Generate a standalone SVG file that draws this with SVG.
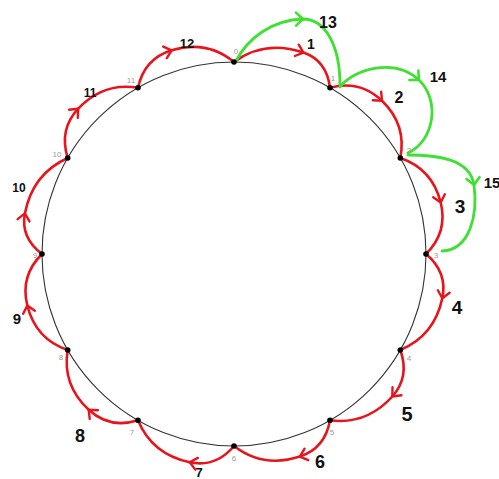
<svg xmlns="http://www.w3.org/2000/svg" width="499" height="479" viewBox="0 0 499 479">
<style>
.circ{fill:none;stroke:#333;stroke-width:1.1}
.dot{fill:#000}
.pl{font-family:"Liberation Sans",Arial,sans-serif;font-size:8px;fill:#999;text-anchor:middle;dominant-baseline:central}
.red{fill:none;stroke:#e8141c;stroke-width:2.6;stroke-linecap:round;stroke-linejoin:round;marker-mid:url(#ar)}
.grn{fill:none;stroke:#3fe032;stroke-width:2.8;stroke-linecap:round;stroke-linejoin:round;marker-mid:url(#ag)}
.lb{font-family:"Liberation Sans",Arial,sans-serif;font-size:16px;font-weight:bold;fill:#111;text-anchor:middle;dominant-baseline:central}
</style>
<defs>
<marker id="ar" markerUnits="userSpaceOnUse" orient="auto" markerWidth="20" markerHeight="20" refX="10" refY="10" viewBox="0 0 20 20" overflow="visible">
<path d="M3 4 L10 10 L3 16" fill="none" stroke="#e8141c" stroke-width="2.4" stroke-linecap="round" stroke-linejoin="round"/>
</marker>
<marker id="ag" markerUnits="userSpaceOnUse" orient="auto" markerWidth="20" markerHeight="20" refX="10" refY="10" viewBox="0 0 20 20" overflow="visible">
<path d="M3 3.5 L10 10 L3 16.5" fill="none" stroke="#3fe032" stroke-width="2.6" stroke-linecap="round" stroke-linejoin="round"/>
</marker>
</defs>
<g id="circle"><circle class="circ" cx="234" cy="254" r="192"/></g>
<g id="connectors">
<path id="e1" class="red" d="M234 62 C254.7 47 278.2 43.9 303.4 52.6 C318 57.6 327.5 68.2 330 87.7"/>
<path id="e2" class="red" d="M330 87.7 C350.9 82 367.9 87.2 382 100.8 C398.1 116.4 404.8 135.3 400.3 158"/>
<path id="e3" class="red" d="M400.3 158 C422.2 165.4 435.3 180.8 440.7 202.5 C445.4 221.5 441.4 238.8 426 254"/>
<path id="e4" class="red" d="M426 254 C441.6 267.1 445.8 281.9 442.3 298.3 C437.1 322.9 423.1 340.6 400.3 350"/>
<path id="e5" class="red" d="M400.3 350 C407.2 369.1 403.5 384 392.3 396.5 C375.4 415.2 354.5 423.5 330 420.3"/>
<path id="e6" class="red" d="M330 420.3 C326.5 440.3 315.8 451.4 299.8 456.6 C275.8 464.4 253.6 461.1 234 446"/>
<path id="e7" class="red" d="M234 446 C220.9 461.6 206.1 465.8 189.7 462.3 C165.1 457.1 147.4 443.1 138 420.3"/>
<path id="e8" class="red" d="M138 420.3 C118 426.6 102 422.2 88.7 409.8 C71.3 393.6 63.8 373.6 67.7 350"/>
<path id="e9" class="red" d="M67.7 350 C45.8 342.6 32.7 327.2 27.3 305.5 C22.6 286.5 26.6 269.2 42 254"/>
<path id="e10" class="red" d="M42 254 C26.4 242 22 228.5 24.9 213.4 C30 187.3 44.4 168.4 67.7 158"/>
<path id="e11" class="red" d="M67.7 158 C61.4 138 65.8 122 78.2 108.7 C94.4 91.3 114.4 83.8 138 87.7"/>
<path id="e12" class="red" d="M138 87.7 C142.5 67.2 154.3 55.6 171.7 50.3 C194.5 43.3 215.5 46.8 234 62"/>
<path id="e13" class="grn" d="M236 61 C248 38 272 20 303 19 C325 19 340 45 340 85"/>
<path id="e14" class="grn" d="M340 87 C355 68 395 58 419 80 C440 100 435 140 408 153"/>
<path id="e15" class="grn" d="M408 155 C435 155 470 158 474 185 C478 215 470 250 442 251"/>
</g>
<g id="n0"><circle class="dot" cx="234" cy="62" r="2.8"/><text class="pl" x="236" y="51">0</text></g>
<g id="n1"><circle class="dot" cx="330" cy="87.7" r="2.8"/><text class="pl" x="333" y="78">1</text></g>
<g id="n2"><circle class="dot" cx="400.3" cy="158" r="2.8"/><text class="pl" x="409" y="150">2</text></g>
<g id="n3"><circle class="dot" cx="426" cy="254" r="2.8"/><text class="pl" x="436" y="255">3</text></g>
<g id="n4"><circle class="dot" cx="400.3" cy="350" r="2.8"/><text class="pl" x="409" y="358">4</text></g>
<g id="n5"><circle class="dot" cx="330" cy="420.3" r="2.8"/><text class="pl" x="332" y="432">5</text></g>
<g id="n6"><circle class="dot" cx="234" cy="446" r="2.8"/><text class="pl" x="234" y="458">6</text></g>
<g id="n7"><circle class="dot" cx="138" cy="420.3" r="2.8"/><text class="pl" x="132" y="432">7</text></g>
<g id="n8"><circle class="dot" cx="67.7" cy="350" r="2.8"/><text class="pl" x="61" y="357">8</text></g>
<g id="n9"><circle class="dot" cx="42" cy="254" r="2.8"/><text class="pl" x="35" y="255">9</text></g>
<g id="n10"><circle class="dot" cx="67.7" cy="158" r="2.8"/><text class="pl" x="57" y="154">10</text></g>
<g id="n11"><circle class="dot" cx="138" cy="87.7" r="2.8"/><text class="pl" x="131" y="80">11</text></g>
<g id="labels">
<text class="lb" x="311" y="44" style="font-size:14px">1</text>
<text class="lb" x="399" y="97">2</text>
<text class="lb" x="460" y="206" style="font-size:19px">3</text>
<text class="lb" x="457" y="307" style="font-size:19px">4</text>
<text class="lb" x="407" y="414" style="font-size:20px">5</text>
<text class="lb" x="320" y="462" style="font-size:18px">6</text>
<text class="lb" x="199" y="472" style="font-size:13px">7</text>
<text class="lb" x="80" y="436" style="font-size:18px">8</text>
<text class="lb" x="17" y="318" style="font-size:15px">9</text>
<text class="lb" x="19" y="188" style="font-size:12px">10</text>
<text class="lb" x="90" y="93" style="font-size:12px">11</text>
<text class="lb" x="187" y="43" style="font-size:13px">12</text>
<text class="lb" x="328" y="22" style="font-size:16px">13</text>
<text class="lb" x="438" y="76" style="font-size:15px">14</text>
<text class="lb" x="492" y="182" style="font-size:15px">15</text>
</g>
</svg>
